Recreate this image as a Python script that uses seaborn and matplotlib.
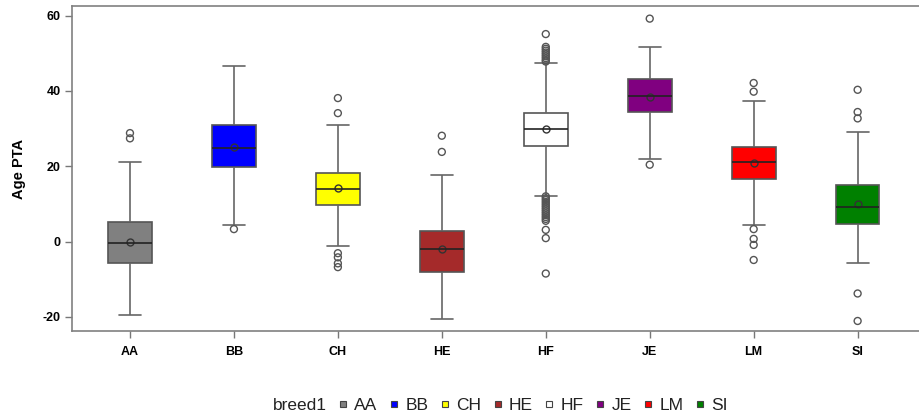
import numpy as np
import pandas as pd
import seaborn as sns
import matplotlib.pyplot as plt
from matplotlib.lines import Line2D

breeds = ['AA', 'BB', 'CH', 'HE', 'HF', 'JE', 'LM', 'SI']
colors = ['#808080', '#0000ff', '#ffff00', '#a52a2a', '#ffffff', '#800080', '#ff0000', '#008000']

# box summaries
whis_lo = [-19.6, 4.3, -1.1, -20.7, 12.2, 22.0, 4.3, -5.8]
q1 = [-5.6, 19.9, 9.7, -8.0, 25.3, 34.3, 16.6, 4.7]
median = [-0.5, 24.9, 14.0, -2.1, 29.9, 38.6, 21.0, 9.1]
q3 = [5.3, 30.9, 18.1, 2.9, 34.1, 43.2, 25.1, 15.1]
whis_hi = [21.1, 46.7, 30.9, 17.8, 47.4, 51.6, 37.4, 29.1]
means = [-0.2, 25.1, 14.1, -1.9, 29.9, 38.4, 20.8, 9.9]

outliers = {
    'AA': [28.8, 27.4],
    'BB': [3.3],
    'CH': [38.1, 34.1, -3.1, -4.2, -5.8, -6.8],
    'HE': [28.1, 23.8],
    'HF': [55.1, 51.7, 51.2, 50.7, 50.2, 49.7, 49.2, 48.7, 48.2, 47.8,
           12.0, 11.5, 11.0, 10.5, 10.0, 9.5, 9.0, 8.5, 8.0, 7.5, 7.0,
           6.5, 6.0, 5.5, 3.1, 0.9, -8.5],
    'JE': [59.2, 20.4],
    'LM': [42.1, 39.8, 3.3, 0.7, -0.9, -4.9],
    'SI': [40.3, 34.4, 32.7, -13.8, -21.1],
}

box_df = pd.DataFrame({
    'breed': np.repeat(breeds, 5),
    'age': np.column_stack([whis_lo, q1, median, q3, whis_hi]).ravel(),
})
mean_df = pd.DataFrame({'breed': breeds, 'age': means})
out_df = pd.DataFrame([(b, v) for b in breeds for v in outliers[b]], columns=['breed', 'age'])

sns.set_theme(style='white')
plt.rcParams['font.family'] = ['Liberation Sans', 'DejaVu Sans']
plt.rcParams['axes.unicode_minus'] = False

fig = plt.figure(figsize=(9.2, 4.16), dpi=100)
ax = fig.add_axes([0.078, 0.204, 0.922, 0.782])

edge = '#666666'
sns.boxplot(data=box_df, x='breed', y='age', hue='breed', order=breeds, hue_order=breeds,
            palette=colors, saturation=1, whis=(0, 100), width=0.42, fliersize=0,
            linewidth=1.2, linecolor=edge, legend=False, ax=ax,
            boxprops=dict(edgecolor='#555555'),
            medianprops=dict(color='#222222', linewidth=1.2))

n_before = len(ax.collections)
sns.stripplot(data=out_df, x='breed', y='age', order=breeds, jitter=False,
              color='white', edgecolor='#555555', linewidth=1, size=5, ax=ax)
for coll in ax.collections[n_before:]:
    coll.set_facecolor('none')

sns.pointplot(data=mean_df, x='breed', y='age', order=breeds, errorbar=None,
              linestyle='none', marker='o', markersize=5, markerfacecolor='none',
              markeredgecolor='#333333', markeredgewidth=1, color='#333333', ax=ax)

ax.set_xlim(-0.56, 7.6)
ax.set_ylim(-23.8, 62.6)
ax.set_yticks([-20, 0, 20, 40, 60])
ax.set_xlabel('')
ax.set_ylabel('Age PTA', fontsize=10.5, fontweight='bold', labelpad=12, color='black')
ax.tick_params(axis='both', which='both', direction='out', length=5, width=1,
               color='#777777', labelsize=9, labelcolor='black', bottom=True, left=True, pad=3)
for lab in ax.get_xticklabels() + ax.get_yticklabels():
    lab.set_fontweight('bold')
ax.tick_params(axis='x', pad=6)
for side in ['left', 'bottom', 'top']:
    ax.spines[side].set_color('#808080')
    ax.spines[side].set_linewidth(1.2)
ax.spines['right'].set_visible(False)

handles = [Line2D([], [], linestyle='none', marker=None)]
labels = ['breed1']
for b, c in zip(breeds, colors):
    handles.append(Line2D([], [], linestyle='none', marker='s', markersize=4.5,
                          markerfacecolor=c, markeredgecolor='#444444', markeredgewidth=0.8))
    labels.append(b)
leg = fig.legend(handles, labels, loc='center', bbox_to_anchor=(0.535, 0.025), ncol=9,
                 frameon=False, fontsize=12.5, handlelength=0.5, handletextpad=0.4,
                 columnspacing=0.7)
for t in leg.get_texts():
    t.set_color('#222222')

fig.savefig('out.png', dpi=100)
